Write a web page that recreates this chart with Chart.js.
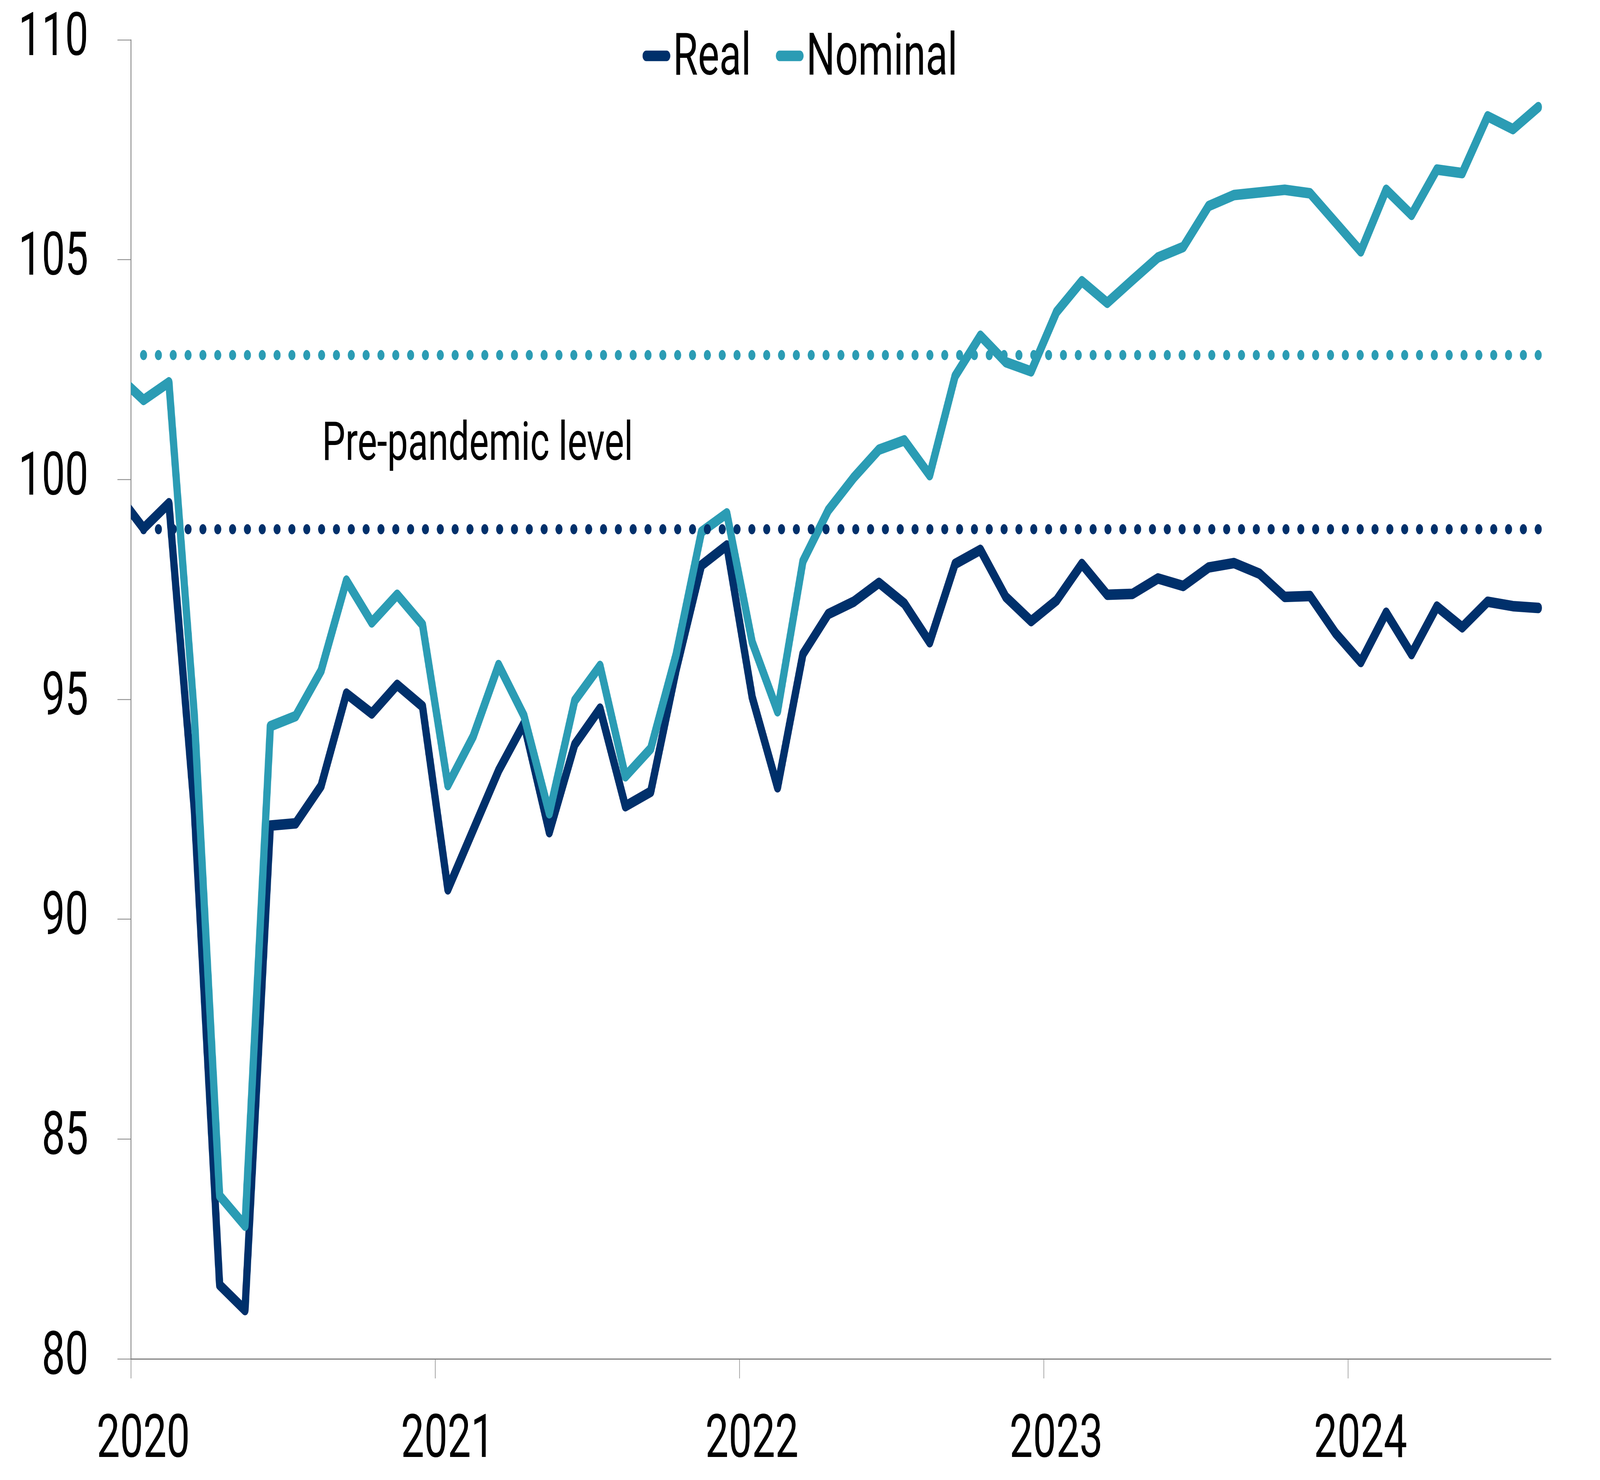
<!DOCTYPE html>
<html>
<head>
<meta charset="utf-8">
<script src="https://cdn.jsdelivr.net/npm/chart.js@4.4.1/dist/chart.umd.min.js"></script>
<style>
html,body{margin:0;padding:0;background:#ffffff;overflow:hidden;height:100%;}
canvas{display:block;}
</style>
</head>
<body>
<canvas id="c" width="5942" height="3788"></canvas>
<script>
// ---------- data ----------
const months = [
  '2019-12',
  '2020-01','2020-02','2020-03','2020-04','2020-05','2020-06','2020-07','2020-08','2020-09','2020-10','2020-11','2020-12',
  '2021-01','2021-02','2021-03','2021-04','2021-05','2021-06','2021-07','2021-08','2021-09','2021-10','2021-11','2021-12',
  '2022-01','2022-02','2022-03','2022-04','2022-05','2022-06','2022-07','2022-08','2022-09','2022-10','2022-11','2022-12',
  '2023-01','2023-02','2023-03','2023-04','2023-05','2023-06','2023-07','2023-08','2023-09','2023-10','2023-11','2023-12',
  '2024-01','2024-02','2024-03','2024-04','2024-05','2024-06','2024-07','2024-08'
];
const realValues = [
  99.65,
  98.89, 99.46, 92.50, 81.68, 81.11, 92.13, 92.18, 93.03, 95.13, 94.68, 95.33, 94.84,
  90.68, 92.03, 93.38, 94.45, 91.98, 93.97, 94.79, 92.57, 92.90, 95.67, 98.05, 98.50,
  95.05, 93.00, 96.03, 96.94, 97.22, 97.65, 97.18, 96.30, 98.08, 98.40, 97.33, 96.78,
  97.25, 98.08, 97.38, 97.40, 97.75, 97.58, 98.00, 98.10, 97.86, 97.33, 97.35, 96.51,
  95.85, 96.97, 96.03, 97.11, 96.64, 97.22, 97.12, 97.08
];
const nominalValues = [
  102.35,
  101.81, 102.21, 94.65, 83.71, 83.03, 94.39, 94.62, 95.65, 97.70, 96.75, 97.38, 96.70,
  93.05, 94.16, 95.78, 94.63, 92.41, 94.97, 95.76, 93.25, 93.88, 96.02, 98.81, 99.23,
  96.30, 94.73, 98.14, 99.30, 100.04, 100.68, 100.89, 100.10, 102.35, 103.27, 102.67, 102.46,
  103.81, 104.51, 104.02, 104.54, 105.05, 105.29, 106.22, 106.47, 106.53, 106.59, 106.51, 105.85,
  105.19, 106.59, 106.02, 107.05, 106.97, 108.26, 107.97, 108.47
];
const prePandemicReal = 98.87;
const prePandemicNominal = 102.83;
const prePandemicStart = '2020-01';
const seriesLabels = ['Real', 'Nominal'];
const yearLabels = ['2020', '2021', '2022', '2023', '2024'];
const yTickValues = [80, 85, 90, 95, 100, 105, 110];
const annotationText = 'Pre-pandemic level';

// ---------- fit the 5942x3788 drawing buffer onto the whole viewport ----------
const canvasEl = document.getElementById('c');
(function fit() {
  const vw = window.innerWidth || 5942;
  const vh = window.innerHeight || 3788;
  canvasEl.style.width = vw + 'px';
  canvasEl.style.height = vh + 'px';
})();

// ---------- styling ----------
const NAVY = '#00306b';
const TEAL = '#2b9cb4';
const AXIS = '#808080';
const FONT = "Roboto, 'Liberation Sans', 'DejaVu Sans', sans-serif";
const LW = 27;

// month string -> position on a month axis (0 = 1 Jan 2020, points at mid-month)
function monthPos(m) {
  const [y, mo] = m.split('-').map(Number);
  return (y - 2020) * 12 + (mo - 1) + 0.5;
}
const toPoints = vals => vals.map((v, i) => ({ x: monthPos(months[i]), y: v }));
const flatLine = level => [
  { x: monthPos(prePandemicStart), y: level },
  { x: monthPos(months[months.length - 1]), y: level }
];

const legendPlugin = {
  id: 'topLegend',
  afterDraw(chart, args, opts) {
    const ctx = chart.ctx;
    ctx.save();
    ctx.font = `${opts.fontSize}px ${FONT}`;
    const items = chart.data.datasets.filter(d => seriesLabels.includes(d.label));
    items.sort((a, b) => seriesLabels.indexOf(a.label) - seriesLabels.indexOf(b.label));
    const widths = items.map(d => opts.sample + opts.textGap + ctx.measureText(d.label).width);
    const total = widths.reduce((a, b) => a + b, 0) + opts.itemGap * (items.length - 1);
    let x = chart.width / 2 - total / 2 + opts.shift;
    items.forEach((d, i) => {
      ctx.strokeStyle = d.borderColor;
      ctx.lineWidth = opts.lineWidth;
      ctx.lineCap = 'round';
      ctx.beginPath();
      ctx.moveTo(x + opts.lineWidth / 2, opts.lineY);
      ctx.lineTo(x + opts.sample - opts.lineWidth / 2, opts.lineY);
      ctx.stroke();
      ctx.fillStyle = '#000';
      ctx.textBaseline = 'alphabetic';
      ctx.textAlign = 'left';
      ctx.fillText(d.label, x + opts.sample + opts.textGap, opts.baseline);
      x += widths[i] + opts.itemGap;
    });
    ctx.restore();
  }
};

const notePlugin = {
  id: 'note',
  afterDatasetsDraw(chart, args, opts) {
    const ctx = chart.ctx;
    const xs = chart.scales.x, ys = chart.scales.y;
    ctx.save();
    ctx.font = `${opts.fontSize}px ${FONT}`;
    ctx.fillStyle = '#000';
    ctx.textAlign = 'left';
    ctx.textBaseline = 'alphabetic';
    ctx.fillText(opts.text, xs.getPixelForValue(opts.atX), ys.getPixelForValue(opts.atY));
    ctx.restore();
  }
};

Chart.defaults.font.family = FONT;

new Chart(canvasEl.getContext('2d'), {
  type: 'line',
  data: {
    datasets: [
      {
        label: 'Pre-pandemic Real',
        data: flatLine(prePandemicReal),
        borderColor: NAVY, borderWidth: 26, borderDash: [0.1, 55], borderCapStyle: 'round',
        pointRadius: 0, order: 0, clip: false
      },
      {
        label: 'Pre-pandemic Nominal',
        data: flatLine(prePandemicNominal),
        borderColor: TEAL, borderWidth: 26, borderDash: [0.1, 55], borderCapStyle: 'round',
        pointRadius: 0, order: 1, clip: false
      },
      {
        label: seriesLabels[1],
        data: toPoints(nominalValues),
        borderColor: TEAL, borderWidth: LW, borderCapStyle: 'round', borderJoinStyle: 'round',
        pointRadius: 0, tension: 0, order: 2, clip: 0
      },
      {
        label: seriesLabels[0],
        data: toPoints(realValues),
        borderColor: NAVY, borderWidth: LW, borderCapStyle: 'round', borderJoinStyle: 'round',
        pointRadius: 0, tension: 0, order: 3, clip: 0
      }
    ]
  },
  options: {
    responsive: false,
    maintainAspectRatio: false,
    devicePixelRatio: 1,
    animation: false,
    events: [],
    layout: { padding: { top: 102, right: 182, left: 0, bottom: 0 } },
    plugins: {
      legend: { display: false },
      tooltip: { enabled: false },
      topLegend: { fontSize: 150, sample: 103, textGap: 10, itemGap: 92, lineWidth: LW, lineY: 143, baseline: 191, shift: 0 },
      note: { text: annotationText, fontSize: 137, atX: 7.54, atY: 100.45 }
    },
    scales: {
      x: {
        type: 'linear', min: 0, max: 56,
        afterBuildTicks: s => { s.ticks = yearLabels.map((_, i) => ({ value: i * 12 })); },
        afterFit: s => { s.height = 310; s.paddingLeft = 0; s.paddingRight = 0; },
        ticks: {
          callback: v => yearLabels[Math.round(v / 12)],
          font: { size: 154 }, color: '#000', padding: 70, labelOffset: 46,
          maxRotation: 0, autoSkip: false
        },
        grid: { drawOnChartArea: false, tickLength: 50, tickColor: AXIS, tickWidth: 2 },
        border: { color: AXIS, width: 3 }
      },
      y: {
        min: 80, max: 110,
        afterBuildTicks: s => { s.ticks = yTickValues.map(v => ({ value: v })); },
        afterFit: s => { s.width = 486; s.paddingTop = 0; s.paddingBottom = 0; },
        ticks: { font: { size: 154 }, color: '#000', padding: 108 },
        grid: { drawOnChartArea: false, tickLength: 50, tickColor: AXIS, tickWidth: 2 },
        border: { color: AXIS, width: 3 }
      }
    }
  },
  plugins: [legendPlugin, notePlugin]
});
</script>
</body>
</html>
